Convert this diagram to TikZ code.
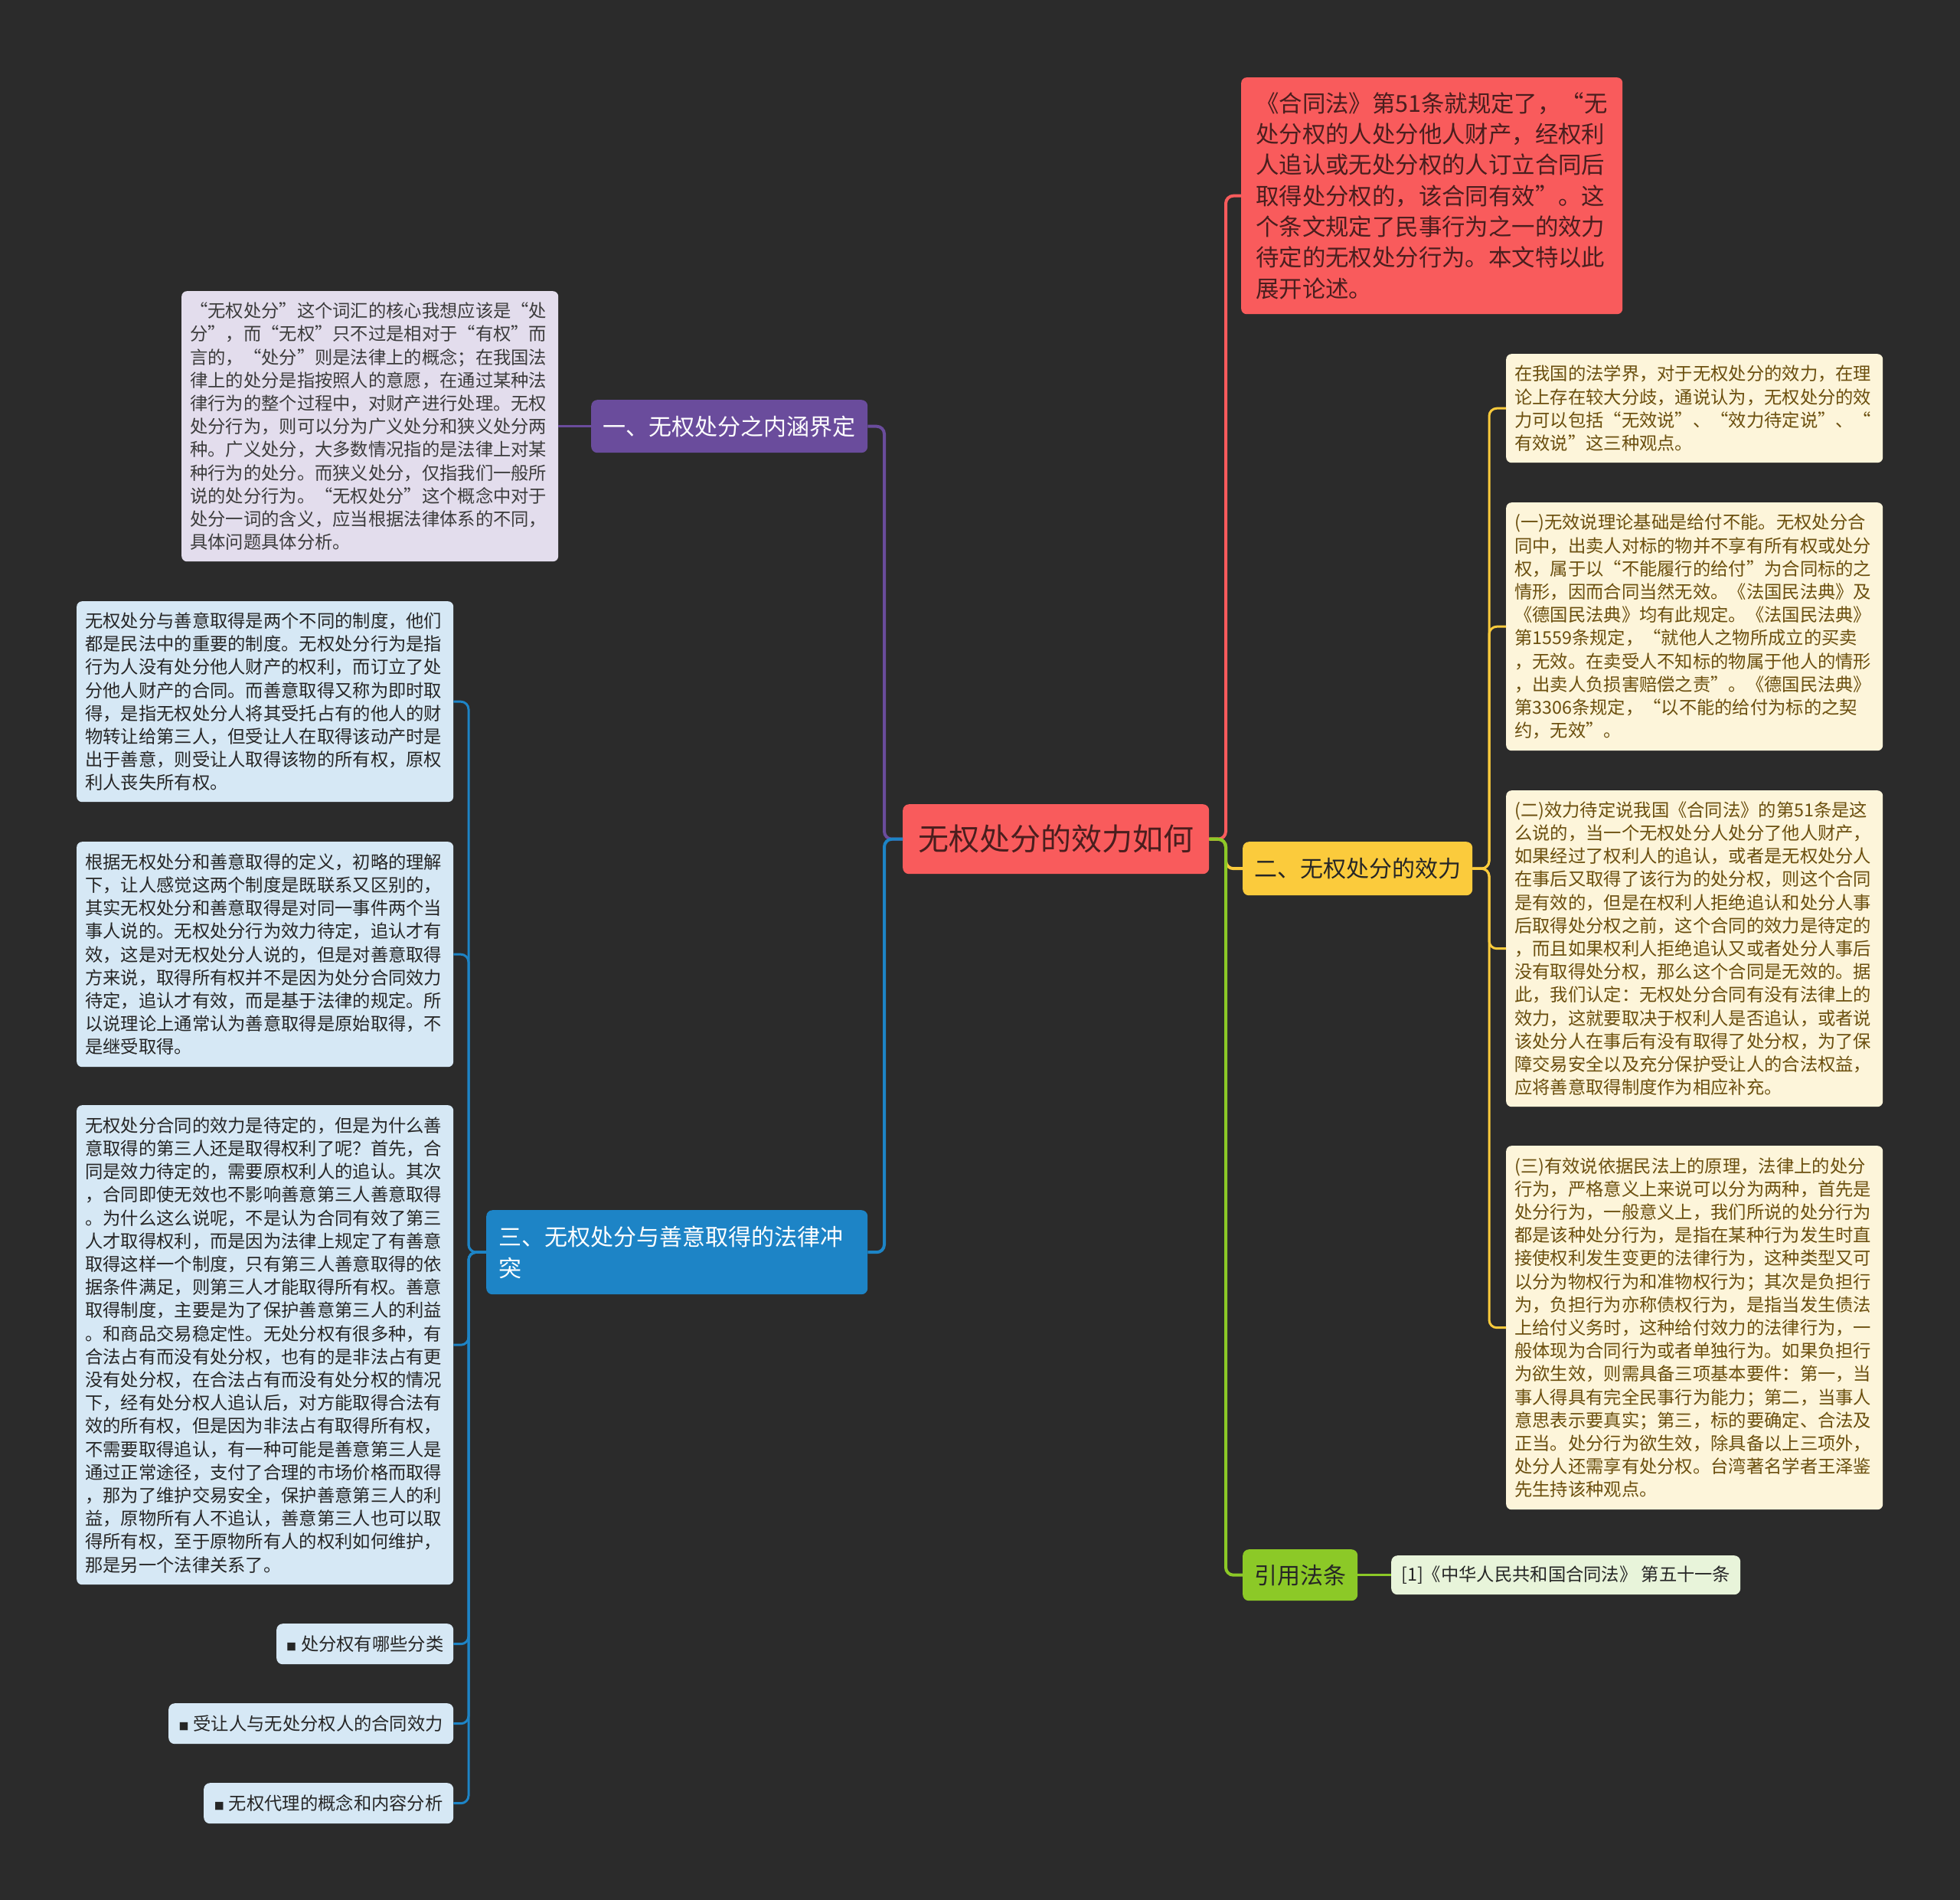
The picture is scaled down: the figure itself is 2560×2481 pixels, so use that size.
\documentclass[tikz,border=0pt]{standalone}
\usepackage{fontspec}
\setmainfont{Noto Sans CJK SC}
\definecolor{bg}{HTML}{2B2B2B}
\definecolor{cred}{HTML}{F95B5C}
\definecolor{credtxt}{HTML}{4A1E1E}
\definecolor{cpurple}{HTML}{6A4C9C}
\definecolor{clav}{HTML}{E3DDED}
\definecolor{cblue}{HTML}{1D84C6}
\definecolor{clblue}{HTML}{D6E8F5}
\definecolor{cyellow}{HTML}{FBCB3C}
\definecolor{ccream}{HTML}{FDF5DA}
\definecolor{cbrown}{HTML}{6B4F0E}
\definecolor{cgreen}{HTML}{8CC927}
\definecolor{clgreen}{HTML}{E8F4DA}
\definecolor{cdark}{HTML}{262626}
\usetikzlibrary{calc}
\begin{document}
\begin{tikzpicture}[x=1pt,y=-1pt,
  detail/.style={rounded corners=7pt, anchor=north west, text width=470pt, align=left,
    inner xsep=11pt, inner ysep=0pt, font={\fontsize{23.3}{30.2}\selectfont}},
  branch/.style={rounded corners=8pt, anchor=north west, inner sep=0pt, align=center,
    font={\fontsize{30}{41}\selectfont}},
  small/.style={rounded corners=8pt, anchor=north west, inner sep=0pt, align=center,
    minimum height=53pt, fill=clblue, text=cdark, font={\fontsize{23.3}{30}\selectfont}},
  mainconn/.style={line width=4pt, rounded corners=10pt},
  conn/.style={line width=3pt, rounded corners=10pt},
]
\useasboundingbox (0,0) rectangle (2560,2481);
\fill[bg] (0,0) rectangle (2560,2481);

% trunk coordinates
\coordinate (tL) at (1155,0);
\coordinate (tR) at (1601,0);
\coordinate (t3) at (612,0);
\coordinate (t2) at (1945,0);

% center
\node[branch, fill=cred, text=credtxt, minimum width=400pt, minimum height=91pt,
  font={\fontsize{40}{48}\selectfont}] (c) at (1179,1050) {无权处分的效力如何};

% main branches
\node[branch, fill=cpurple, text=white, minimum width=361pt, minimum height=69pt] (b1) at (772,522) {一、无权处分之内涵界定};
\node[branch, fill=cyellow, text=cdark, minimum width=300pt, minimum height=70pt] (b2) at (1623,1099) {二、无权处分的效力};
\node[branch, fill=cblue, text=white, text width=466pt, inner xsep=16pt, align=left, minimum height=110pt] (b3) at (635,1580) {三、无权处分与善意取得的法律冲\\突};
\node[branch, fill=cgreen, text=cdark, minimum width=150pt, minimum height=67pt] (b4) at (1623,2023) {引用法条};

% red intro box
\node[detail, fill=cred, text=credtxt, text width=460pt, inner xsep=19pt, minimum height=309pt,
  font={\fontsize{30.4}{40.3}\selectfont}] (rb) at (1621,101) {《合同法》第51条就规定了，“无\\处分权的人处分他人财产，经权利\\人追认或无处分权的人订立合同后\\取得处分权的，该合同有效”。这\\个条文规定了民事行为之一的效力\\待定的无权处分行为。本文特以此\\展开论述。};

% box under branch one
\node[detail, fill=clav, text=cdark!90, minimum height=353pt] (x1) at (237,380) {“无权处分”这个词汇的核心我想应该是“处\\分”，而“无权”只不过是相对于“有权”而\\言的，“处分”则是法律上的概念；在我国法\\律上的处分是指按照人的意愿，在通过某种法\\律行为的整个过程中，对财产进行处理。无权\\处分行为，则可以分为广义处分和狭义处分两\\种。广义处分，大多数情况指的是法律上对某\\种行为的处分。而狭义处分，仅指我们一般所\\说的处分行为。“无权处分”这个概念中对于\\处分一词的含义，应当根据法律体系的不同，\\具体问题具体分析。};

% boxes under branch two
\node[detail, fill=ccream, text=cbrown, minimum height=142pt] (r1) at (1967,462) {在我国的法学界，对于无权处分的效力，在理\\论上存在较大分歧，通说认为，无权处分的效\\力可以包括“无效说”、“效力待定说”、“\\有效说”这三种观点。};
\node[detail, fill=ccream, text=cbrown, minimum height=324pt] (r2) at (1967,656) {(一)无效说理论基础是给付不能。无权处分合\\同中，出卖人对标的物并不享有所有权或处分\\权，属于以“不能履行的给付”为合同标的之\\情形，因而合同当然无效。《法国民法典》及\\《德国民法典》均有此规定。《法国民法典》\\第1559条规定，“就他人之物所成立的买卖\\，无效。在卖受人不知标的物属于他人的情形\\，出卖人负损害赔偿之责”。《德国民法典》\\第3306条规定，“以不能的给付为标的之契\\约，无效”。};
\node[detail, fill=ccream, text=cbrown, minimum height=413pt] (r3) at (1967,1032) {(二)效力待定说我国《合同法》的第51条是这\\么说的，当一个无权处分人处分了他人财产，\\如果经过了权利人的追认，或者是无权处分人\\在事后又取得了该行为的处分权，则这个合同\\是有效的，但是在权利人拒绝追认和处分人事\\后取得处分权之前，这个合同的效力是待定的\\，而且如果权利人拒绝追认又或者处分人事后\\没有取得处分权，那么这个合同是无效的。据\\此，我们认定：无权处分合同有没有法律上的\\效力，这就要取决于权利人是否追认，或者说\\该处分人在事后有没有取得了处分权，为了保\\障交易安全以及充分保护受让人的合法权益，\\应将善意取得制度作为相应补充。};
\node[detail, fill=ccream, text=cbrown, minimum height=475pt] (r4) at (1967,1496) {(三)有效说依据民法上的原理，法律上的处分\\行为，严格意义上来说可以分为两种，首先是\\处分行为，一般意义上，我们所说的处分行为\\都是该种处分行为，是指在某种行为发生时直\\接使权利发生变更的法律行为，这种类型又可\\以分为物权行为和准物权行为；其次是负担行\\为，负担行为亦称债权行为，是指当发生债法\\上给付义务时，这种给付效力的法律行为，一\\般体现为合同行为或者单独行为。如果负担行\\为欲生效，则需具备三项基本要件：第一，当\\事人得具有完全民事行为能力；第二，当事人\\意思表示要真实；第三，标的要确定、合法及\\正当。处分行为欲生效，除具备以上三项外，\\处分人还需享有处分权。台湾著名学者王泽鉴\\先生持该种观点。};

% boxes under branch three
\node[detail, fill=clblue, text=cdark, minimum height=262pt] (l1) at (100,785) {无权处分与善意取得是两个不同的制度，他们\\都是民法中的重要的制度。无权处分行为是指\\行为人没有处分他人财产的权利，而订立了处\\分他人财产的合同。而善意取得又称为即时取\\得，是指无权处分人将其受托占有的他人的财\\物转让给第三人，但受让人在取得该动产时是\\出于善意，则受让人取得该物的所有权，原权\\利人丧失所有权。};
\node[detail, fill=clblue, text=cdark, minimum height=294pt] (l2) at (100,1099) {根据无权处分和善意取得的定义，初略的理解\\下，让人感觉这两个制度是既联系又区别的，\\其实无权处分和善意取得是对同一事件两个当\\事人说的。无权处分行为效力待定，追认才有\\效，这是对无权处分人说的，但是对善意取得\\方来说，取得所有权并不是因为处分合同效力\\待定，追认才有效，而是基于法律的规定。所\\以说理论上通常认为善意取得是原始取得，不\\是继受取得。};
\node[detail, fill=clblue, text=cdark, minimum height=626pt] (l3) at (100,1443) {无权处分合同的效力是待定的，但是为什么善\\意取得的第三人还是取得权利了呢？首先，合\\同是效力待定的，需要原权利人的追认。其次\\，合同即使无效也不影响善意第三人善意取得\\。为什么这么说呢，不是认为合同有效了第三\\人才取得权利，而是因为法律上规定了有善意\\取得这样一个制度，只有第三人善意取得的依\\据条件满足，则第三人才能取得所有权。善意\\取得制度，主要是为了保护善意第三人的利益\\。和商品交易稳定性。无处分权有很多种，有\\合法占有而没有处分权，也有的是非法占有更\\没有处分权，在合法占有而没有处分权的情况\\下，经有处分权人追认后，对方能取得合法有\\效的所有权，但是因为非法占有取得所有权，\\不需要取得追认，有一种可能是善意第三人是\\通过正常途径，支付了合理的市场价格而取得\\，那为了维护交易安全，保护善意第三人的利\\益，原物所有人不追认，善意第三人也可以取\\得所有权，至于原物所有人的权利如何维护，\\那是另一个法律关系了。};
\node[small, minimum width=231pt] (s1) at (361,2120) {{\fontsize{13}{13}\selectfont ■}\hspace{6pt}处分权有哪些分类};
\node[small, minimum width=372pt] (s2) at (220,2224) {{\fontsize{13}{13}\selectfont ■}\hspace{6pt}受让人与无处分权人的合同效力};
\node[small, minimum width=326pt] (s3) at (266,2328) {{\fontsize{13}{13}\selectfont ■}\hspace{6pt}无权代理的概念和内容分析};

% reference box
\node[small, fill=clgreen, minimum width=456pt, minimum height=51pt] (ref) at (1817,2031) {[1]《中华人民共和国合同法》 第五十一条};

% main connectors
\draw[mainconn, cpurple] (c.west) -- (tL |- c.west) |- (b1.east);
\draw[mainconn, cblue] (c.west) -- (tL |- c.west) |- (b3.east);
\draw[mainconn, cred] (c.east) -- (tR |- c.east) |- (rb.west);
\draw[mainconn, cyellow] (c.east) -- (tR |- c.east) |- (b2.west);
\draw[mainconn, cgreen] (c.east) -- (tR |- c.east) |- (b4.west);

% sub connectors
\draw[conn, cpurple] (b1.west) -- (x1.east);
\foreach \k in {r1,r2,r3,r4}
  \draw[conn, cyellow] (b2.east) -- (t2 |- b2.east) |- (\k.west);
\foreach \k in {l1,l2,l3,s1,s2,s3}
  \draw[conn, cblue] (b3.west) -- (t3 |- b3.west) |- (\k.east);
\draw[conn, cgreen] (b4.east) -- (ref.west);
\end{tikzpicture}
\end{document}
